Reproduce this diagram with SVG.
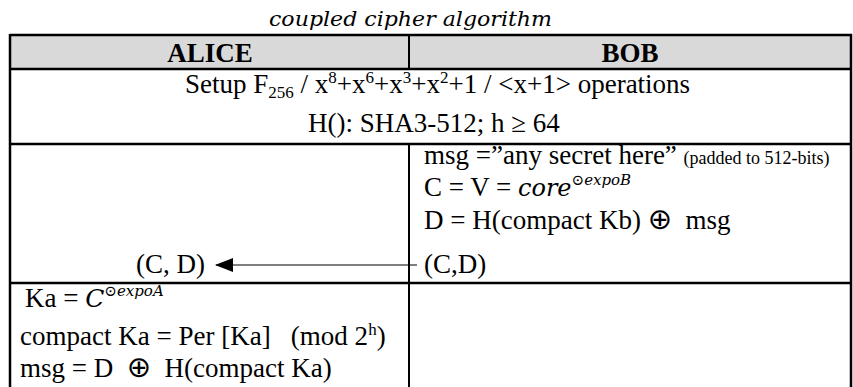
<svg xmlns="http://www.w3.org/2000/svg" width="853" height="387" viewBox="0 0 853 387">
<defs>
<style>
.t{font-family:"Liberation Serif","Times New Roman",serif;font-size:27px;fill:#000}
.h{font-family:"Liberation Serif","Times New Roman",serif;font-size:27px;font-weight:bold;fill:#000}
.m{font-family:"DejaVu Serif",serif;font-style:italic}
.sup{font-size:17px}
.sm{font-size:18px}
.op{font-family:"DejaVu Sans",sans-serif;font-size:29px}
.ln{stroke:#000;stroke-width:2.5;fill:none}
.dv{stroke:#000;stroke-width:2;fill:none}
</style>
<marker id="ah" markerWidth="18" markerHeight="14" refX="17" refY="7" orient="auto" markerUnits="userSpaceOnUse">
<path d="M0,0 L18,7 L0,14 Z" fill="#000"/>
</marker>
</defs>
<rect width="853" height="387" fill="#fff"/>
<text x="269" y="26" class="m" font-size="21" textLength="283" lengthAdjust="spacingAndGlyphs">coupled cipher algorithm</text>
<g id="table">
<rect x="10" y="35" width="841" height="34" fill="#d9d9d9"/>
<line class="ln" x1="10" y1="35" x2="852" y2="35"/>
<line class="ln" x1="10" y1="69" x2="852" y2="69"/>
<line class="ln" x1="10" y1="144" x2="852" y2="144"/>
<line class="ln" x1="10" y1="283" x2="852" y2="283"/>
<line class="ln" x1="10" y1="34" x2="10" y2="387"/>
<line class="ln" x1="851" y1="34" x2="851" y2="387"/>
<line class="dv" x1="409" y1="35" x2="409" y2="69"/>
<line class="dv" x1="409" y1="144" x2="409" y2="387"/>
</g>
<g id="alice-header"><text x="210" y="62" class="h" text-anchor="middle">ALICE</text></g>
<g id="bob-header"><text x="630" y="62" class="h" text-anchor="middle">BOB</text></g>
<g id="setup">
<text x="185" y="93" class="t">Setup F<tspan class="sup" dy="5">256</tspan><tspan dy="-5"> / x</tspan><tspan class="sup" dy="-10">8</tspan><tspan dy="10">+x</tspan><tspan class="sup" dy="-10">6</tspan><tspan dy="10">+x</tspan><tspan class="sup" dy="-10">3</tspan><tspan dy="10">+x</tspan><tspan class="sup" dy="-10">2</tspan><tspan dy="10">+1 / &lt;x+1&gt; operations</tspan></text>
<text x="308" y="132" class="t">H(): SHA3-512; h ≥ 64</text>
</g>
<g id="bob">
<text x="424" y="164" class="t">msg =”any secret here” <tspan class="sm">(padded to 512-bits)</tspan></text>
<text x="424" y="196" class="t">C = V = <tspan class="m" font-size="24">core</tspan><tspan class="m" font-size="15" dy="-11">⊙expoB</tspan></text>
<text x="424" y="229" class="t" xml:space="preserve">D = H(compact Kb) <tspan class="op">⊕</tspan>  msg</text>
<text x="424" y="273" class="t">(C,D)</text>
</g>
<g id="alice">
<text x="136" y="273" class="t">(C, D)</text>
<text x="25" y="307" class="t">Ka = <tspan class="m" font-size="25">C</tspan><tspan class="m" font-size="15" dy="-11">⊙expoA</tspan></text>
<text x="20" y="345" class="t" xml:space="preserve">compact Ka = Per [Ka]   (mod 2<tspan class="sup" dy="-10">h</tspan><tspan dy="10">)</tspan></text>
<text x="20" y="377" class="t" xml:space="preserve">msg = D  <tspan class="op">⊕</tspan>  H(compact Ka)</text>
</g>
<g id="connectors">
<line x1="417" y1="265" x2="216" y2="265" stroke="#000" stroke-width="1.2" marker-end="url(#ah)"/>
</g>
</svg>
